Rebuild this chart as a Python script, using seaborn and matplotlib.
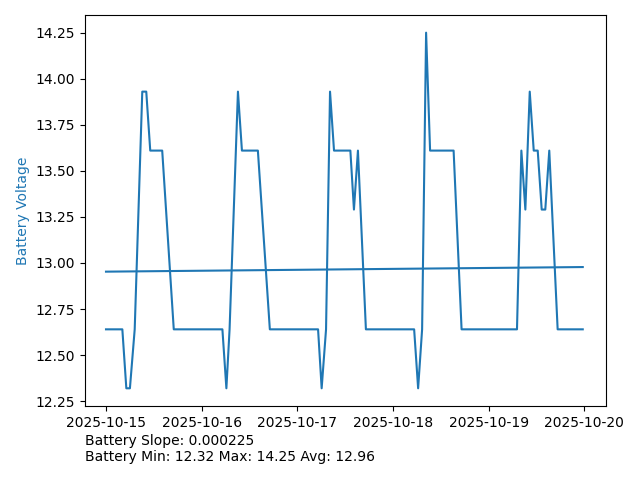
import numpy as np
import pandas as pd
import matplotlib
matplotlib.use("Agg")
import matplotlib.pyplot as plt
import matplotlib.dates as mdates
import seaborn as sns


START = pd.Timestamp("2025-10-15 00:00")

# hours since start
hours = [0, 4.1, 5.1, 6.0, 7.2, 9.1, 10.1, 11.1, 14.1, 17.0,
         29.2, 30.2, 31.0, 33.1, 34.1, 38.1, 41.1,
         53.2, 54.1, 55.2, 56.2, 57.2, 61.3, 62.2, 63.2, 65.2,
         77.3, 78.3, 79.3, 80.3, 81.3, 87.2, 89.2,
         103.1, 104.2, 105.2, 106.3, 107.3, 108.3, 109.3, 110.2, 111.2, 113.3, 119.6]
voltage = [12.64, 12.64, 12.32, 12.32, 12.64, 13.93, 13.93, 13.61, 13.61, 12.64,
           12.64, 12.32, 12.64, 13.93, 13.61, 13.61, 12.64,
           12.64, 12.32, 12.64, 13.93, 13.61, 13.61, 13.29, 13.61, 12.64,
           12.64, 12.32, 12.64, 14.25, 13.61, 13.61, 12.64,
           12.64, 13.61, 13.29, 13.93, 13.61, 13.61, 13.29, 13.29, 13.61, 12.64, 12.64]

# trend line endpoints
trend_hours = [0, 119.6]
trend_values = [12.953, 12.978]

slope = 0.000225
v_min, v_max, v_avg = 12.32, 14.25, 12.96


def main():
    df = pd.DataFrame({
        "time": START + pd.to_timedelta(hours, unit="h"),
        "voltage": voltage,
    })
    trend = pd.DataFrame({
        "time": START + pd.to_timedelta(trend_hours, unit="h"),
        "voltage": trend_values,
    })

    fig, ax = plt.subplots(figsize=(6.4, 4.8), dpi=100)
    sns.lineplot(data=df, x="time", y="voltage", ax=ax, color="C0", estimator=None)
    sns.lineplot(data=trend, x="time", y="voltage", ax=ax, color="C0", estimator=None)

    ax.set_xlabel("")
    ax.set_ylabel("Battery Voltage", color="C0")
    ax.set_xlim(START - pd.Timedelta(hours=5.35), START + pd.Timedelta(hours=125.45))
    ax.xaxis.set_major_locator(mdates.DayLocator())
    ax.xaxis.set_major_formatter(mdates.DateFormatter("%Y-%m-%d"))

    fig.subplots_adjust(left=0.1323, right=0.947, top=0.969, bottom=0.154)
    fig.text(0.1323, 0.033,
             f"Battery Slope: {slope:.6f}\nBattery Min: {v_min:.2f} Max: {v_max:.2f} Avg: {v_avg:.2f}",
             ha="left", va="bottom", fontsize=10)

    fig.savefig("out.png", dpi=100)
    plt.close(fig)


if __name__ == "__main__":
    main()
